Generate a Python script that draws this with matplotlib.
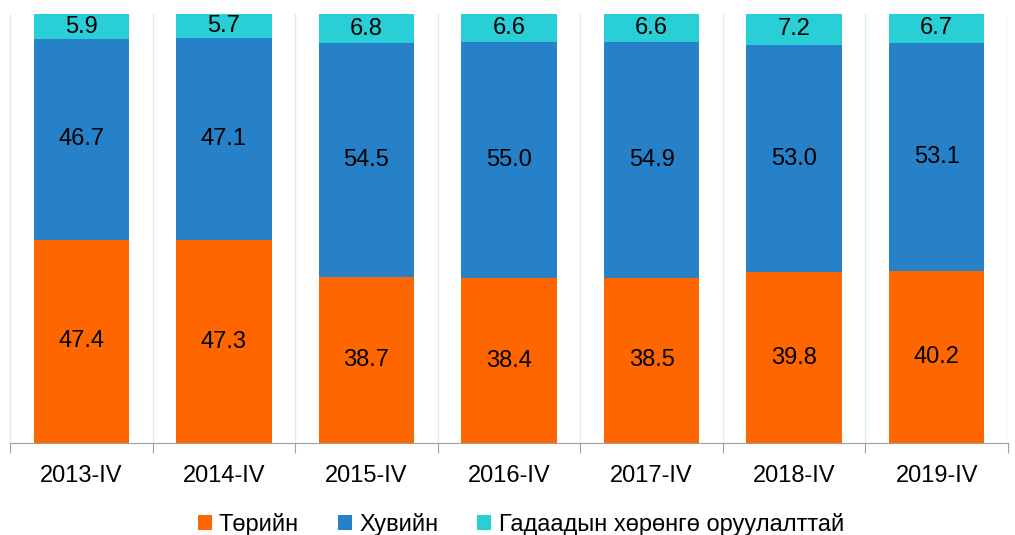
import matplotlib
matplotlib.use("Agg")
import matplotlib.pyplot as plt
import numpy as np
from matplotlib.patches import Patch

categories = ["2013-IV", "2014-IV", "2015-IV", "2016-IV", "2017-IV", "2018-IV", "2019-IV"]
state = [47.4, 47.3, 38.7, 38.4, 38.5, 39.8, 40.2]
private = [46.7, 47.1, 54.5, 55.0, 54.9, 53.0, 53.1]
foreign = [5.9, 5.7, 6.8, 6.6, 6.6, 7.2, 6.7]
series_names = ["Төрийн", "Хувийн", "Гадаадын хөрөнгө оруулалттай"]
colors = ["#FF6600", "#2681C8", "#29CED7"]

plt.rcParams['font.family'] = ['Liberation Sans', 'DejaVu Sans']

fig = plt.figure(figsize=(10.15, 5.35), dpi=100)
ax = fig.add_axes([10/1015, 1 - 443/535, 998/1015, (443-14)/535])

x = np.arange(len(categories))
bottom = np.zeros(len(categories))
for vals, col in zip([state, private, foreign], colors):
    vals = np.array(vals)
    ax.bar(x, vals, width=0.67, bottom=bottom, color=col, zorder=2)
    for xi, b, v in zip(x, bottom, vals):
        ax.text(xi, b + v / 2, f"{v:.1f}", ha='center', va='center', fontsize=17, color='black', zorder=3)
    bottom += vals

ax.set_xlim(-0.5, len(categories) - 0.5)
ax.set_ylim(0, 100)
for b in np.arange(-0.5, len(categories), 1.0):
    ax.axvline(b, color='#D6ECF7', lw=1, zorder=1)

for s in ['top', 'right', 'left']:
    ax.spines[s].set_visible(False)
ax.spines['bottom'].set_color('#A0A0A0')
ax.set_yticks([])
ax.set_xticks(np.arange(-0.5, len(categories), 1.0))
ax.set_xticklabels([])
ax.set_xticks(x, minor=True)
ax.set_xticklabels(categories, minor=True, fontsize=17)
ax.tick_params(axis='x', which='major', length=7, color='#A0A0A0', direction='out')
ax.tick_params(axis='x', which='minor', length=0, pad=16)

handles = [Patch(facecolor=c, label=n) for c, n in zip(colors, series_names)]
fig.legend(handles=handles, loc='center', bbox_to_anchor=(0.513, 1 - 524/535), ncol=3,
           frameon=False, fontsize=17, handlelength=0.6, handleheight=0.6, handletextpad=0.3,
           columnspacing=1.65)

fig.savefig("out.png", dpi=100)
